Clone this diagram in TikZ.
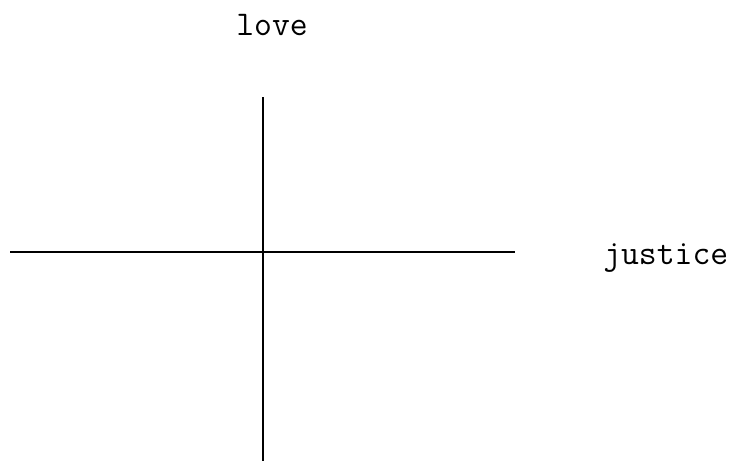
\documentclass[tikz,border=0pt]{standalone}
\usepackage{fontspec}
\begin{document}
\begin{tikzpicture}[x=0.75pt,y=-0.75pt,
  axis/.style={line width=1.1pt},
  lbl/.style={inner sep=0pt,font=\ttfamily\fontsize{26}{30}\selectfont}]
\useasboundingbox (0,0) rectangle (741,461);
\coordinate (vt) at (263,97);
\coordinate (vb) at (263,461);
\coordinate (hl) at (10,252);
\coordinate (hr) at (515,252);
\draw[axis] (vt) -- (vb);
\draw[axis] (hl) -- (hr);
\node[lbl,anchor=base] (love) at (272,35) {love};
\node[lbl,anchor=base west] (justice) at (603,264) {justice};
\end{tikzpicture}
\end{document}
